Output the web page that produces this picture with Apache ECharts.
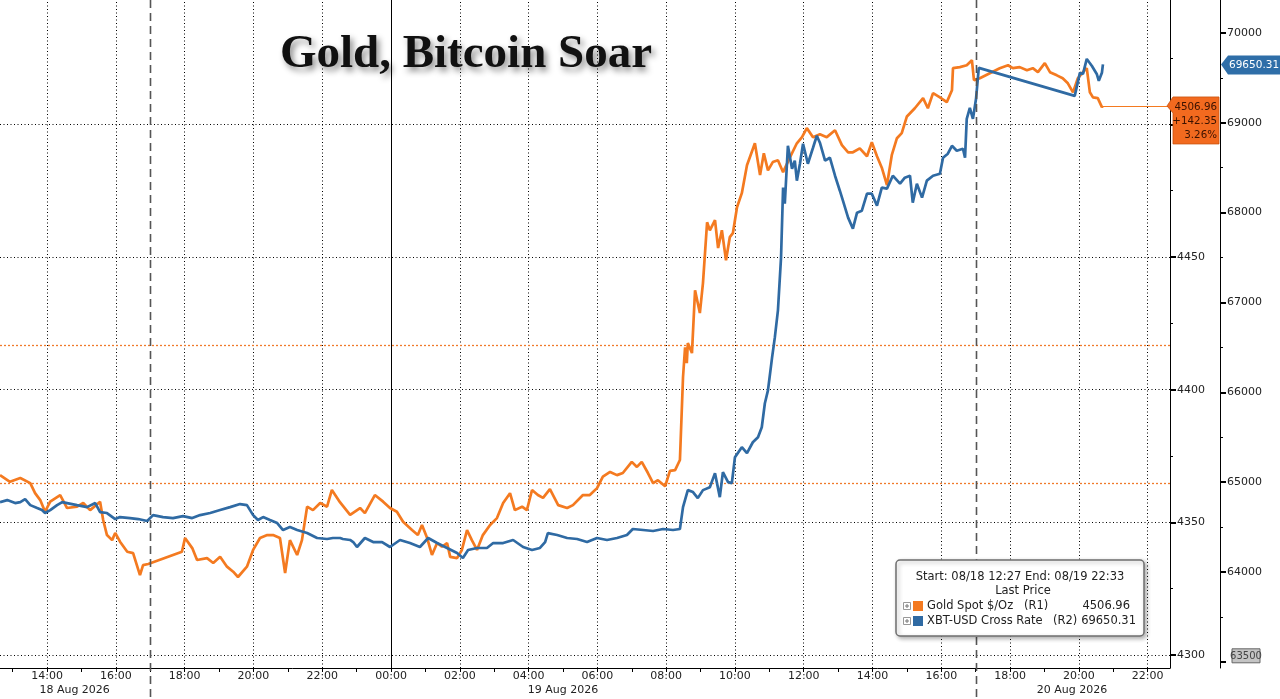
<!DOCTYPE html>
<html>
<head>
<meta charset="utf-8">
<title>Gold, Bitcoin Soar</title>
<script src="https://cdn.jsdelivr.net/npm/echarts@6/dist/echarts.min.js"></script>
<style>
    html, body { margin: 0; padding: 0; background: #fff; }
    #chartGold { width: 1280px; height: 699px; }
</style>
</head>
<body>
<div id="chartGold"></div>
<script>
// hours counted from 18 Aug 00:00 (24 = 19 Aug 00:00)
var goldHours = [12.63, 12.92, 13.22, 13.51, 13.65, 13.80, 13.94, 14.09, 14.38, 14.58, 14.87, 15.05, 15.25, 15.54, 15.63, 15.74, 15.89, 15.98, 16.12, 16.33,
    16.50, 16.70, 16.79, 16.94, 17.92, 18.01, 18.22, 18.36, 18.65, 18.83, 19.03, 19.23, 19.41, 19.55, 19.81, 19.99, 20.19, 20.40, 20.57, 20.77,
    20.92, 21.06, 21.27, 21.41, 21.56, 21.73, 21.94, 22.14, 22.28, 22.52, 22.81, 23.10, 23.24, 23.53, 23.77, 23.97, 24.17, 24.35, 24.61, 24.78,
    24.90, 25.05, 25.19, 25.34, 25.48, 25.63, 25.72, 25.92, 26.06, 26.21, 26.35, 26.50, 26.67, 26.88, 27.08, 27.26, 27.46, 27.60, 27.81, 27.95,
    28.10, 28.27, 28.42, 28.62, 28.86, 29.12, 29.29, 29.58, 29.78, 29.99, 30.16, 30.37, 30.57, 30.74, 31.00, 31.15, 31.29, 31.47, 31.62, 31.76,
    31.97, 32.11, 32.26, 32.40, 32.49, 32.55, 32.60, 32.63, 32.75, 32.84, 32.98, 33.07, 33.19, 33.27, 33.42, 33.51, 33.62, 33.74, 33.85, 33.94,
    34.06, 34.20, 34.35, 34.58, 34.73, 34.84, 34.96, 35.10, 35.25, 35.40, 35.60, 35.80, 35.95, 36.09, 36.27, 36.47, 36.67, 36.91, 37.11, 37.29,
    37.43, 37.63, 37.84, 37.98, 38.13, 38.27, 38.42, 38.56, 38.71, 38.85, 39.00, 39.23, 39.47, 39.61, 39.76, 39.96, 40.16, 40.31, 40.34, 40.54,
    40.74, 40.89, 40.95, 41.12, 41.41, 41.70, 41.94, 42.08, 42.28, 42.49, 42.66, 42.81, 43.01, 43.16, 43.36, 43.53, 43.68, 43.83, 43.97, 44.12,
    44.23, 44.32, 44.41, 44.55, 44.67, 44.70];
var goldPrices = [4367.8, 4365.3, 4366.7, 4364.8, 4361.0, 4358.4, 4354.0, 4357.8, 4360.3, 4355.4, 4355.9, 4357.3, 4354.6, 4357.8, 4350.9, 4345.2, 4343.3, 4346.0, 4342.7, 4338.9,
    4338.4, 4330.1, 4333.9, 4334.3, 4338.9, 4344.1, 4340.3, 4335.8, 4336.5, 4334.7, 4337.0, 4333.3, 4331.4, 4329.4, 4333.3, 4339.6, 4344.1, 4345.2, 4345.2, 4344.1,
    4330.9, 4343.3, 4337.7, 4343.3, 4355.9, 4354.6, 4357.3, 4355.9, 4362.2, 4357.5, 4352.8, 4355.4, 4353.5, 4360.3, 4357.8, 4355.4, 4354.0, 4350.2, 4347.1, 4345.2,
    4349.0, 4344.1, 4337.7, 4342.2, 4340.8, 4342.2, 4337.0, 4336.5, 4339.6, 4347.1, 4343.3, 4339.6, 4345.2, 4349.0, 4351.6, 4357.3, 4361.0, 4354.6, 4355.9, 4354.6,
    4362.2, 4360.3, 4359.2, 4362.5, 4356.5, 4355.4, 4356.5, 4360.3, 4360.3, 4362.9, 4367.2, 4369.0, 4367.8, 4368.6, 4372.8, 4370.9, 4372.8, 4368.6, 4364.8, 4365.9,
    4363.6, 4369.4, 4369.7, 4373.5, 4404.7, 4416.0, 4410.0, 4417.6, 4413.8, 4437.5, 4428.9, 4440.2, 4463.1, 4460.1, 4463.9, 4453.4, 4460.1, 4448.8, 4457.5, 4459.0,
    4468.8, 4474.1, 4484.6, 4492.9, 4480.9, 4489.1, 4482.7, 4485.8, 4486.5, 4482.0, 4487.6, 4492.9, 4495.2, 4498.6, 4495.2, 4496.3, 4495.2, 4497.8, 4492.2, 4489.5,
    4489.5, 4491.0, 4488.0, 4493.3, 4488.0, 4483.7, 4477.1, 4488.4, 4494.8, 4496.7, 4503.0, 4506.1, 4509.9, 4506.1, 4511.8, 4510.2, 4508.4, 4512.9, 4521.2, 4521.6,
    4522.3, 4524.2, 4516.7, 4517.4, 4519.3, 4521.2, 4522.3, 4521.2, 4521.6, 4520.4, 4521.2, 4519.7, 4523.1, 4519.7, 4518.5, 4517.4, 4515.5, 4512.1, 4517.4, 4519.7,
    4521.2, 4512.1, 4510.2, 4509.9, 4506.5, 4506.96];

var btcHours = [12.63, 12.84, 13.07, 13.22, 13.36, 13.51, 13.71, 13.85, 13.94, 14.09, 14.29, 14.44, 14.58, 14.87, 15.16, 15.40, 15.54, 15.74, 15.98, 16.12,
    16.41, 16.65, 16.91, 17.08, 17.37, 17.66, 17.95, 18.22, 18.45, 18.74, 19.03, 19.32, 19.61, 19.81, 19.99, 20.13, 20.28, 20.48, 20.69, 20.86,
    21.06, 21.27, 21.56, 21.85, 22.14, 22.31, 22.52, 22.60, 22.81, 22.90, 23.01, 23.24, 23.48, 23.74, 23.97, 24.26, 24.55, 24.84, 25.08, 25.34,
    25.63, 25.92, 26.09, 26.24, 26.50, 26.79, 26.97, 27.26, 27.55, 27.84, 28.10, 28.33, 28.48, 28.56, 28.83, 29.12, 29.41, 29.70, 29.99, 30.28,
    30.57, 30.86, 31.03, 31.33, 31.62, 31.91, 32.20, 32.40, 32.49, 32.63, 32.78, 32.92, 33.07, 33.27, 33.42, 33.56, 33.65, 33.80, 33.91, 34.00,
    34.20, 34.35, 34.52, 34.67, 34.78, 34.87, 34.96, 35.08, 35.16, 35.25, 35.34, 35.40, 35.45, 35.54, 35.66, 35.74, 35.80, 35.89, 35.98, 36.12,
    36.27, 36.38, 36.47, 36.62, 36.76, 36.91, 37.05, 37.14, 37.29, 37.43, 37.55, 37.69, 37.84, 37.98, 38.13, 38.27, 38.42, 38.59, 38.80, 38.94,
    39.09, 39.17, 39.29, 39.44, 39.58, 39.76, 39.96, 40.05, 40.19, 40.31, 40.45, 40.63, 40.69, 40.74, 40.83, 40.92, 41.01, 41.09, 43.88, 44.03,
    44.12, 44.23, 44.38, 44.52, 44.58, 44.67, 44.70];
var btcPrices = [64778, 64800, 64767, 64778, 64811, 64744, 64711, 64689, 64656, 64689, 64744, 64778, 64767, 64744, 64722, 64767, 64667, 64656, 64589, 64611,
    64600, 64589, 64567, 64633, 64611, 64600, 64622, 64600, 64633, 64656, 64689, 64722, 64756, 64744, 64633, 64578, 64611, 64578, 64544, 64467,
    64500, 64467, 64433, 64378, 64367, 64378, 64378, 64367, 64356, 64333, 64278, 64378, 64333, 64333, 64278, 64356, 64322, 64278, 64378, 64322,
    64267, 64211, 64156, 64244, 64267, 64267, 64322, 64322, 64356, 64278, 64244, 64267, 64333, 64433, 64411, 64378, 64367, 64333, 64378, 64356,
    64378, 64411, 64478, 64467, 64456, 64478, 64467, 64478, 64722, 64911, 64889, 64822, 64911, 64944, 65100, 64833, 65111, 65000, 64989, 65278,
    65389, 65322, 65444, 65500, 65611, 65878, 66022, 66389, 66611, 66911, 67500, 68278, 68100, 68744, 68489, 68578, 68356, 68544, 68767, 68544,
    68722, 68856, 68778, 68578, 68611, 68411, 68244, 68133, 67944, 67822, 68000, 68022, 68211, 68211, 68078, 68278, 68267, 68411, 68322, 68389,
    68411, 68111, 68322, 68167, 68356, 68411, 68433, 68611, 68656, 68744, 68689, 68711, 68611, 69044, 69167, 69044, 69267, 69611, 69300, 69556,
    69544, 69711, 69633, 69544, 69467, 69556, 69650.31];

var hourTicks = [14, 16, 18, 20, 22, 24, 26, 28, 30, 32, 34, 36, 38, 40, 42, 44, 46];
var minorHours = [13, 14, 15, 16, 17, 18, 19, 20, 21, 22, 23, 24, 25, 26, 27, 28, 29, 30, 31, 32, 33, 34, 35, 36, 37, 38, 39, 40, 41, 42, 43, 44, 45, 46];
var sessionMid = [14.8, 29, 43.8];
var sessionNames = ['18 Aug 2026', '19 Aug 2026', '20 Aug 2026'];
var sessionBreaks = [17, 41];
var goldTicks = [4300, 4350, 4400, 4450, 4500];
var goldLabels = [4300, 4350, 4400, 4450];
var goldMinor = [4325, 4375, 4425, 4475, 4525];
var btcTicks = [63000, 64000, 65000, 66000, 67000, 68000, 69000, 70000];
var btcLabels = [64000, 65000, 66000, 67000, 68000, 69000, 70000];
var btcMinor = [63500, 64500, 65500, 66500, 67500, 68500, 69500];

var goldLast = 4506.96, goldChange = '+142.35', goldPct = '3.26%';
var goldPrevClose = 4364.61, goldLevel = 4416.8;
var btcLast = 69650.31;
var btcLowTag = '63500';
var rangeNote = 'Start: 08/18 12:27 End: 08/19 22:33';

var ORANGE = '#f47a20', BLUE = '#2f6aa3';
var AXIS_FONT = 'DejaVu Sans';
var xMin = 12.63, xMax = 46.65;

function pairs(xs, ys) {
    return xs.map(function(x, i) { return [x, ys[i]]; });
}

function hourLabel(v) {
    var h = Math.round(v) % 24;
    return (h < 10 ? '0' : '') + h + ':00';
}

function plainNumber(v) {
    return String(Math.round(v));
}

var dotted = { color: '#000', width: 1, type: [1, 2.5] };
var orangeDotted = { color: '#f07a2a', width: 1.3, type: [2, 2] };
var gridLines = [];
hourTicks.forEach(function(h) {
    gridLines.push({ xAxis: h, lineStyle: h === 24 ? { color: '#000', width: 1, type: 'solid' } : dotted });
});
goldTicks.forEach(function(v) {
    gridLines.push({ yAxis: v, lineStyle: dotted });
});
gridLines.push({ yAxis: goldPrevClose, lineStyle: orangeDotted });
gridLines.push({ yAxis: goldLevel, lineStyle: orangeDotted });
gridLines.push([{ coord: [goldHours[goldHours.length - 1], goldLast] }, { coord: [xMax, goldLast], lineStyle: { color: ORANGE, width: 1, type: 'solid' } }]);

var domChart = document.getElementById('chartGold');
var myChart = echarts.init(domChart);

function valueAxis(min, max, ticks, labels, tickLen, offset, showLine) {
    return {
        type: 'value',
        position: 'right',
        offset: offset,
        min: min,
        max: max,
        axisLine: { show: showLine, lineStyle: { color: '#000', width: 1 } },
        axisTick: { show: true, customValues: ticks, length: tickLen, lineStyle: { color: '#000', width: tickLen > 4 ? 2 : 1 } },
        axisLabel: labels ? {
            show: true, customValues: labels, margin: 7, formatter: plainNumber,
            color: '#222', fontFamily: AXIS_FONT, fontSize: 11
        } : { show: false },
        splitLine: { show: false }
    };
}

var option = {
    animation: false,
    backgroundColor: '#fff',
    grid: { left: 0, right: 110, top: 0, bottom: 31, containLabel: false },
    xAxis: [{
        type: 'value', min: xMin, max: xMax,
        axisLine: { show: true, lineStyle: { color: '#000', width: 1 } },
        axisTick: { show: true, customValues: minorHours, length: 4, lineStyle: { color: '#000' } },
        axisLabel: { show: false },
        splitLine: { show: false }
    }, {
        type: 'value', min: xMin, max: xMax, position: 'bottom',
        axisLine: { show: false },
        axisTick: { show: false },
        axisLabel: {
            show: true, customValues: hourTicks, margin: 3, formatter: hourLabel,
            color: '#222', fontFamily: AXIS_FONT, fontSize: 11
        },
        splitLine: { show: false }
    }, {
        type: 'value', min: xMin, max: xMax, position: 'bottom',
        axisLine: { show: false },
        axisTick: { show: false },
        axisLabel: {
            show: true, customValues: sessionMid, margin: 17,
            formatter: function(v) {
                var best = 0;
                sessionMid.forEach(function(m, i) { if (Math.abs(m - v) < Math.abs(sessionMid[best] - v)) best = i; });
                return sessionNames[best];
            },
            color: '#222', fontFamily: AXIS_FONT, fontSize: 11
        },
        splitLine: { show: false }
    }],
    yAxis: [
        valueAxis(4295.1, 4546.9, goldTicks, goldLabels, 6, 0, true),
        valueAxis(4295.1, 4546.9, goldMinor, null, 3, 0, false),
        valueAxis(62931, 70367, btcTicks, btcLabels, 6, 50, true),
        valueAxis(62931, 70367, btcMinor, null, 3, 50, false)
    ],
    series: [{
        name: 'Gold Spot $/Oz',
        type: 'line',
        xAxisIndex: 0,
        yAxisIndex: 0,
        showSymbol: false,
        z: 3,
        lineStyle: { color: ORANGE, width: 2.7 },
        itemStyle: { color: ORANGE },
        data: pairs(goldHours, goldPrices),
        markLine: {
            silent: true, z: 1, symbol: 'none', animation: false,
            label: { show: false },
            data: gridLines
        }
    }, {
        name: 'XBT-USD Cross Rate',
        type: 'line',
        xAxisIndex: 0,
        yAxisIndex: 2,
        showSymbol: false,
        z: 4,
        lineStyle: { color: BLUE, width: 2.7 },
        itemStyle: { color: BLUE },
        data: pairs(btcHours, btcPrices)
    }]
};

if (option && typeof option === 'object') {
    myChart.setOption(option);
}

// overlay: session breaks, price tags, title and the legend box
function buildOverlay() {
    var g = [];
    var plotRight = myChart.convertToPixel({ xAxisIndex: 0 }, xMax);
    var btcAxisX = plotRight + 50;

    sessionBreaks.forEach(function(h) {
        var x = Math.round(myChart.convertToPixel({ xAxisIndex: 0 }, h)) + 0.5;
        g.push({
            type: 'line', z: 40, silent: true,
            shape: { x1: x, y1: 0, x2: x, y2: 699 },
            style: { stroke: '#555', lineWidth: 1.6, lineDash: [8, 5] }
        });
    });

    // gold last price tag
    var yg = myChart.convertToPixel({ yAxisIndex: 0 }, goldLast);
    var tl = plotRight + 3;
    g.push({
        type: 'polygon', z: 60,
        shape: { points: [[plotRight - 3, yg], [tl, yg - 9], [plotRight + 49, yg - 9], [plotRight + 49, yg + 38], [tl, yg + 38], [tl, yg + 7]] },
        style: { fill: '#f26a1f', stroke: '#c9530f', lineWidth: 0.8 }
    });
    [goldLast.toFixed(2), goldChange, goldPct].forEach(function(t, i) {
        g.push({
            type: 'text', z: 61,
            style: {
                text: t, x: plotRight + 47, y: yg + 1 + i * 14,
                textAlign: 'right', textVerticalAlign: 'middle',
                fill: '#3b1200', font: '10.3px "' + AXIS_FONT + '"'
            }
        });
    });

    // btc last price tag
    var yb = myChart.convertToPixel({ yAxisIndex: 2 }, btcLast);
    g.push({
        type: 'polygon', z: 60,
        shape: { points: [[btcAxisX + 1, yb], [btcAxisX + 8, yb - 9], [1280, yb - 9], [1280, yb + 10], [btcAxisX + 8, yb + 10]] },
        style: { fill: '#2f6ea8' }
    });
    g.push({
        type: 'text', z: 61,
        style: {
            text: btcLast.toFixed(2), x: btcAxisX + 9, y: yb + 1,
            textAlign: 'left', textVerticalAlign: 'middle',
            fill: '#fff', font: '10.5px "' + AXIS_FONT + '"'
        }
    });

    // grey tag at the bottom of the btc axis
    var ylow = myChart.convertToPixel({ yAxisIndex: 2 }, 63000) - 6;
    g.push({
        type: 'rect', z: 60,
        shape: { x: btcAxisX + 12, y: ylow - 7, width: 28, height: 14 },
        style: { fill: '#c4c4c4', stroke: '#666', lineWidth: 1 }
    });
    g.push({
        type: 'text', z: 61,
        style: {
            text: btcLowTag, x: btcAxisX + 26, y: ylow + 1,
            textAlign: 'center', textVerticalAlign: 'middle',
            fill: '#444', font: '10px "' + AXIS_FONT + '"'
        }
    });

    // title
    g.push({
        type: 'text', z: 70,
        style: {
            text: 'Gold, Bitcoin Soar', x: 466, y: 78,
            textAlign: 'center', textVerticalAlign: 'bottom',
            fill: '#111', font: 'bold 47px "Liberation Serif"',
            textShadowColor: 'rgba(0,0,0,0.45)', textShadowBlur: 6,
            textShadowOffsetX: 3, textShadowOffsetY: 4
        }
    });

    // legend box
    var bx = 896, by = 560, bw = 248, bh = 76;
    var lf = '11.5px "' + AXIS_FONT + '"';
    g.push({
        type: 'rect', z: 80,
        shape: { x: bx, y: by, width: bw, height: bh, r: 4 },
        style: {
            fill: '#fff', stroke: '#6f6f6f', lineWidth: 1.5,
            shadowBlur: 4, shadowColor: 'rgba(0,0,0,0.3)', shadowOffsetX: 2, shadowOffsetY: 2
        }
    });
    g.push({ type: 'text', z: 81, style: { text: rangeNote, x: bx + bw / 2, y: by + 17, textAlign: 'center', textVerticalAlign: 'middle', fill: '#222', font: lf } });
    g.push({ type: 'text', z: 81, style: { text: 'Last Price', x: bx + bw / 2 + 3, y: by + 31, textAlign: 'center', textVerticalAlign: 'middle', fill: '#222', font: lf } });

    var rows = [
        { color: ORANGE, name: 'Gold Spot $/Oz', tag: '(R1)', tagX: 1024, value: goldLast.toFixed(2), valueX: 1130 },
        { color: BLUE, name: 'XBT-USD Cross Rate', tag: '(R2)', tagX: 1053, value: btcLast.toFixed(2), valueX: 1136 }
    ];
    rows.forEach(function(r, i) {
        var ry = by + 46 + i * 15;
        g.push({ type: 'rect', z: 81, shape: { x: 903.5, y: ry - 3.5, width: 7, height: 7 }, style: { fill: '#fff', stroke: '#999', lineWidth: 1 } });
        g.push({ type: 'line', z: 82, shape: { x1: 905, y1: ry, x2: 909, y2: ry }, style: { stroke: '#777', lineWidth: 1 } });
        g.push({ type: 'line', z: 82, shape: { x1: 907, y1: ry - 2, x2: 907, y2: ry + 2 }, style: { stroke: '#777', lineWidth: 1 } });
        g.push({ type: 'rect', z: 81, shape: { x: 913, y: ry - 5, width: 10, height: 10 }, style: { fill: r.color } });
        g.push({ type: 'text', z: 81, style: { text: r.name, x: 927, y: ry, textAlign: 'left', textVerticalAlign: 'middle', fill: '#222', font: lf } });
        g.push({ type: 'text', z: 81, style: { text: r.tag, x: r.tagX, y: ry, textAlign: 'left', textVerticalAlign: 'middle', fill: '#222', font: lf } });
        g.push({ type: 'text', z: 81, style: { text: r.value, x: r.valueX, y: ry, textAlign: 'right', textVerticalAlign: 'middle', fill: '#222', font: lf } });
    });

    myChart.setOption({ graphic: { elements: g } });
}

buildOverlay();

window.addEventListener('resize', function() {
    "use strict";
    myChart.resize();
    buildOverlay();
});
</script>
</body>
</html>
